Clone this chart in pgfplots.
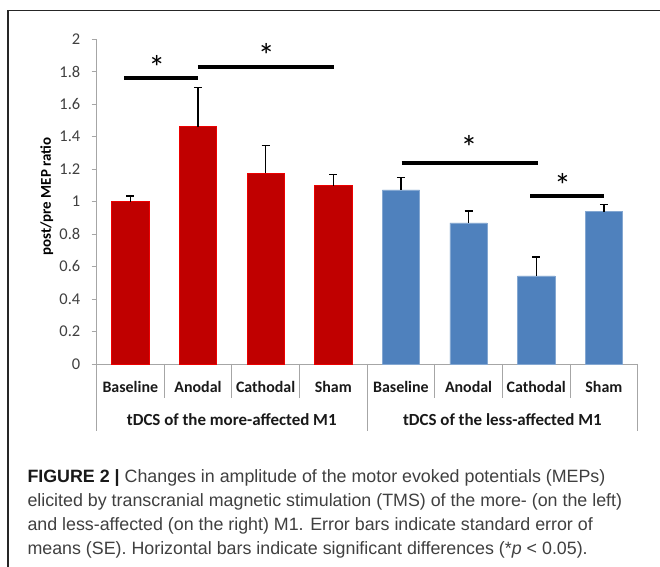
\documentclass[border=0pt]{standalone}
\usepackage{fontspec}
\setmainfont{Carlito}
\newfontfamily\capfont{Liberation Sans}
\usepackage{pgfplots}
\pgfplotsset{compat=1.18}
\definecolor{barred}{HTML}{C00000}
\definecolor{barblue}{HTML}{4F81BD}
\definecolor{axgray}{HTML}{A6A6A6}
\begin{document}
\begin{tikzpicture}
\path[use as bounding box] (0bp,0bp) rectangle (660bp,567bp);
\fill[white] (0bp,0bp) rectangle (660bp,567bp);
\draw[line width=1.4bp, black!85] (660bp,556.5bp) -- (8bp,556.5bp) -- (8bp,0bp);
\begin{axis}[
  at={(96.5bp,203bp)}, anchor=south west,
  scale only axis, width=541.2bp, height=325bp,
  xmin=-0.5, xmax=7.5, ymin=0, ymax=2,
  axis lines*=left,
  axis line style={axgray, line width=0.8bp},
  clip=false,
  ytick={0,0.2,0.4,0.6,0.8,1,1.2,1.4,1.6,1.8,2},
  yticklabels={0,0.2,0.4,0.6,0.8,1,1.2,1.4,1.6,1.8,2},
  tick align=outside,
  major tick length=5bp,
  ytick style={axgray, line width=0.8bp},
  yticklabel style={font=\fontsize{16.5}{16.5}\selectfont, text=black!75, anchor=east, inner sep=0pt, xshift=-11bp},
  xtick={0,1,2,3,4,5,6,7},
  xticklabels={Baseline,Anodal,Cathodal,Sham,Baseline,Anodal,Cathodal,Sham},
  xtick style={draw=none},
  xticklabel style={font=\bfseries\fontsize{16}{16}\selectfont, text=black!90, anchor=base, inner sep=0pt, yshift=-23.7bp},
]
\addplot[ybar, bar shift=0pt, bar width=0.55, fill=barred, draw=red!70!barred, line width=0.5bp,
  error bars/.cd, y dir=plus, y explicit,
  error bar style={black, line width=1.3bp},
  error mark options={rotate=90, black, line width=1.3bp, mark size=4bp}]
  coordinates {(0,0.999) +- (0,0.035) (1,1.460) +- (0,0.240) (2,1.174) +- (0,0.169) (3,1.097) +- (0,0.068)};
\addplot[ybar, bar shift=0pt, bar width=0.55, fill=barblue, draw=barblue!70!white, line width=0.5bp,
  error bars/.cd, y dir=plus, y explicit,
  error bar style={black, line width=1.3bp},
  error mark options={rotate=90, black, line width=1.3bp, mark size=4bp}]
  coordinates {(4,1.071) +- (0,0.075) (5,0.868) +- (0,0.074) (6,0.543) +- (0,0.115) (7,0.937) +- (0,0.046)};
% significance bars
\addplot[black, line width=4bp, forget plot] coordinates {(-0.09,1.758) (1.0,1.758)};
\addplot[black, line width=4bp, forget plot] coordinates {(1.0,1.826) (3.015,1.826)};
\addplot[black, line width=4bp, forget plot] coordinates {(4.01,1.239) (6.03,1.239)};
\addplot[black, line width=4bp, forget plot] coordinates {(5.91,1.036) (7.0,1.036)};
\node[font=\fontsize{34}{34}\selectfont, inner sep=0pt] at (axis cs:0.39,1.822) {*};
\node[font=\fontsize{34}{34}\selectfont, inner sep=0pt] at (axis cs:2.01,1.900) {*};
\node[font=\fontsize{34}{34}\selectfont, inner sep=0pt] at (axis cs:5.006,1.331) {*};
\node[font=\fontsize{34}{34}\selectfont, inner sep=0pt] at (axis cs:6.39,1.100) {*};
% table separators
\draw[axgray, line width=0.8bp] (axis cs:0.5,0) -- ++(0bp,-33.7bp);
\draw[axgray, line width=0.8bp] (axis cs:1.5,0) -- ++(0bp,-33.7bp);
\draw[axgray, line width=0.8bp] (axis cs:2.5,0) -- ++(0bp,-33.7bp);
\draw[axgray, line width=0.8bp] (axis cs:4.5,0) -- ++(0bp,-33.7bp);
\draw[axgray, line width=0.8bp] (axis cs:5.5,0) -- ++(0bp,-33.7bp);
\draw[axgray, line width=0.8bp] (axis cs:6.5,0) -- ++(0bp,-33.7bp);
\draw[axgray, line width=0.8bp] (axis cs:-0.5,0) -- ++(0bp,-67bp);
\draw[axgray, line width=0.8bp] (axis cs:3.5,0) -- ++(0bp,-67bp);
\draw[axgray, line width=0.8bp] (axis cs:7.5,0) -- ++(0bp,-67bp);
\node[anchor=base, font=\bfseries\fontsize{17}{17}\selectfont, text=black!90, inner sep=0pt] at (axis cs:1.5,0) [yshift=-61.7bp] {tDCS of the more-affected M1};
\node[anchor=base, font=\bfseries\fontsize{17}{17}\selectfont, text=black!90, inner sep=0pt] at (axis cs:5.5,0) [yshift=-61.7bp] {tDCS of the less-affected M1};
\node[rotate=90, anchor=center, font=\bfseries\fontsize{15}{15}\selectfont, inner sep=0pt] at (axis cs:-0.5,1.03) [yshift=49.8bp] {post/pre MEP ratio};
\end{axis}
\begin{scope}[every node/.style={anchor=base west, inner sep=0pt, font=\capfont\fontsize{17.9}{17.9}\selectfont, text=black!75}]
\node at (27.3bp,84.3bp) {\textcolor{black!90}{\textbf{FIGURE 2 |}} Changes in amplitude of the motor evoked potentials (MEPs)};
\node at (27.3bp,60.3bp) {elicited by transcranial magnetic stimulation (TMS) of the more- (on the left)};
\node at (27.3bp,36.3bp) {and less-affected (on the right) M1. Error bars indicate standard error of};
\node at (27.3bp,12.3bp) {means (SE). Horizontal bars indicate significant differences (*\textit{p} < 0.05).};
\end{scope}
\end{tikzpicture}
\end{document}
